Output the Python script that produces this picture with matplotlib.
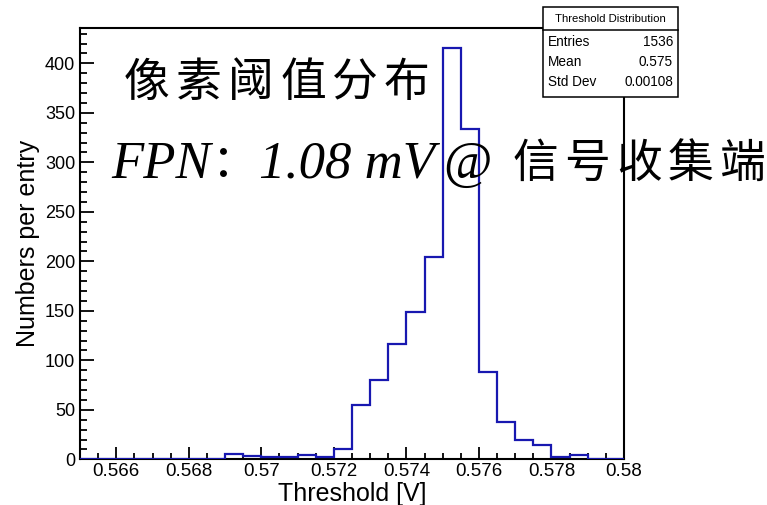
import matplotlib
matplotlib.use('Agg')
import matplotlib.pyplot as plt
from matplotlib.patches import Rectangle
from matplotlib.lines import Line2D
from matplotlib.ticker import MultipleLocator, FuncFormatter

# histogram content (bin edges in V, counts per bin)
bin_edges = [0.565, 0.5655, 0.566, 0.5665, 0.567, 0.5675, 0.568, 0.5685,
             0.569, 0.5695, 0.570, 0.5705, 0.571, 0.5715, 0.572, 0.5725,
             0.573, 0.5735, 0.574, 0.5745, 0.575, 0.5755, 0.576, 0.5765,
             0.577, 0.5775, 0.578, 0.5785, 0.579, 0.5795, 0.580]
counts = [0, 0, 0, 0, 0, 0, 0, 0,
          5, 3, 2, 2, 4, 2, 10, 55,
          80, 116, 149, 204, 415, 334, 88, 38,
          19, 14, 2, 4, 0, 0]

stats_title = 'Threshold Distribution'
stats_names = ['Entries', 'Mean', 'Std Dev']
stats_values = ['1536', '0.575', '0.00108']

title_chars = ['像', '素', '阈', '值', '分', '布']
fpn_label = 'FPN'
fpn_value = '1.08 mV'
node_chars = ['信', '号', '收', '集', '端']

W, H = 767, 505
fig = plt.figure(figsize=(W / 100, H / 100), dpi=100)
fig.patch.set_facecolor('white')


def px(x, y):
    return x / W, 1 - y / H


ax_l, ax_r, ax_t, ax_b = 80, 624, 27.7, 459.3
ax = fig.add_axes([ax_l / W, 1 - ax_b / H, (ax_r - ax_l) / W, (ax_b - ax_t) / H])

ax.stairs(counts, bin_edges, color='#1818b0', linewidth=1.6, zorder=3)

ax.set_xlim(0.565, 0.580)
ax.set_ylim(0, 436)

for s in ax.spines.values():
    s.set_linewidth(1.5)
    s.set_color('black')

ax.xaxis.set_major_locator(MultipleLocator(0.002))
ax.xaxis.set_minor_locator(MultipleLocator(0.0005))
ax.yaxis.set_major_locator(MultipleLocator(50))
ax.yaxis.set_minor_locator(MultipleLocator(10))
ax.xaxis.set_major_formatter(FuncFormatter(lambda v, p: '%g' % round(v, 4)))

ax.tick_params(which='both', direction='in', top=False, right=False,
               width=1.3, colors='black')
ax.tick_params(axis='x', which='major', length=8.5, pad=3, labelsize=13.5)
ax.tick_params(axis='x', which='minor', length=4.3)
ax.tick_params(axis='y', which='major', length=10, pad=3.5, labelsize=13)
ax.tick_params(axis='y', which='minor', length=5)
for lab in ax.get_xticklabels() + ax.get_yticklabels():
    lab.set_fontfamily('Liberation Sans')

ax.set_xlabel('Threshold [V]', fontsize=18, family='Liberation Sans', va='center')
ax.xaxis.set_label_coords(0.5, -(494 - ax_b) / (ax_b - ax_t))
ax.set_ylabel('Numbers per entry', fontsize=18, family='Liberation Sans', va='center')
ax.yaxis.set_label_coords((28 - ax_l) / (ax_r - ax_l), 0.5)

# stats box
bx0, bx1, by0, by1, bdiv = 543, 678, 7, 97, 30
fig.add_artist(Rectangle(px(bx0, by1), (bx1 - bx0) / W, (by1 - by0) / H,
                         transform=fig.transFigure, facecolor='white',
                         edgecolor='black', linewidth=1.1, zorder=10))
fig.add_artist(Line2D([bx0 / W, bx1 / W], [1 - bdiv / H, 1 - bdiv / H],
                      transform=fig.transFigure, color='black', linewidth=1.1, zorder=11))
fig.text(*px((bx0 + bx1) / 2, 18.5), stats_title, ha='center', va='center',
         fontsize=8.2, family='Liberation Sans', zorder=12)
for i, (n, v) in enumerate(zip(stats_names, stats_values)):
    y = 42 + 20 * i
    fig.text(*px(bx0 + 5, y), n, ha='left', va='center', fontsize=9.8,
             family='Liberation Sans', zorder=12)
    fig.text(*px(bx1 - 5, y), v, ha='right', va='center', fontsize=9.8,
             family='Liberation Sans', zorder=12)

# annotation text
cjk = ['Noto Sans CJK SC', 'DejaVu Sans']
for i, ch in enumerate(title_chars):
    fig.text(*px(147 + 52 * i, 83), ch, ha='center', va='center',
             fontsize=33, family=cjk, zorder=5)

base = 178
fig.text(*px(111, base), fpn_label, ha='left', va='baseline', fontsize=38,
         family='Liberation Serif', style='italic', zorder=5)
fig.text(*px(235, base - 14), '：', ha='center', va='center', fontsize=33,
         family=cjk, zorder=5)
fig.text(*px(259, base), fpn_value, ha='left', va='baseline', fontsize=38,
         family='Liberation Serif', style='italic', zorder=5)
fig.text(*px(443, base), '@', ha='left', va='baseline', fontsize=38,
         family='Liberation Serif', zorder=5)
for i, ch in enumerate(node_chars):
    fig.text(*px(535 + 52 * i, 164), ch, ha='center', va='center',
             fontsize=33, family=cjk, zorder=5)

fig.savefig('out.png', dpi=100, facecolor='white')
